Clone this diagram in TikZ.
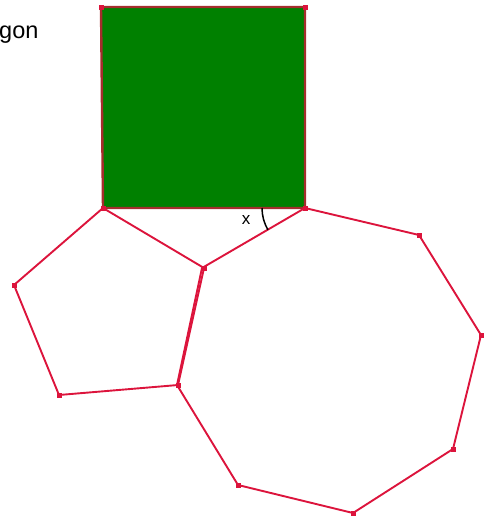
\documentclass[tikz,border=0pt]{standalone}
\usepackage{fontspec}
\setmainfont{Liberation Sans}
\definecolor{edgered}{RGB}{220,20,60}
\definecolor{sqgreen}{RGB}{0,128,0}
\definecolor{sqborder}{RGB}{165,45,45}
\begin{document}
\begin{tikzpicture}[x=1pt,y=-1pt,
  poly/.style={draw=edgered,line width=1.9pt,line join=round},
  vdot/.style={fill=edgered,minimum size=5pt,inner sep=0pt,outer sep=0pt,rectangle}]
\useasboundingbox (0,0) rectangle (486,517);
% square
\coordinate (s1) at (101,7);
\coordinate (s2) at (305,7);
\coordinate (s3) at (305,208);
\coordinate (s4) at (103,208);
\draw[fill=sqgreen,draw=sqborder,line width=2.4pt] (s1) -- (s2) -- (s3) -- (s4) -- cycle;
% pentagon
\coordinate (p1) at (103,208);
\coordinate (p2) at (204,268);
\coordinate (p3) at (178,385);
\coordinate (p4) at (59,395);
\coordinate (p5) at (14,285);
\draw[poly] (p1) -- (p2) -- (p3) -- (p4) -- (p5) -- cycle;
% octagon
\coordinate (o1) at (305,208);
\coordinate (o2) at (419,235);
\coordinate (o3) at (481,335);
\coordinate (o4) at (453,449);
\coordinate (o5) at (353,513);
\coordinate (o6) at (238,485);
\coordinate (o7) at (177,385);
\coordinate (o8) at (202,268);
\draw[poly] (o1) -- (o2) -- (o3) -- (o4) -- (o5) -- (o6) -- (o7) -- (o8) -- cycle;
% vertex dots
\foreach \c in {s1,s2,p1,p2,p3,p4,p5,o1,o2,o3,o4,o5,o6}
  \node[vdot] at (\c) {};
% angle
\draw[line width=1.5pt] (o1) ++(180:43) arc[start angle=180,end angle=149.5,radius=43];
\node[font=\fontsize{17}{19}\selectfont] (xl) at (246,220) {x};
% text
\node[font=\fontsize{23.5}{27}\selectfont,anchor=base west,inner sep=0pt] (t) at (-1,38) {gon};
\end{tikzpicture}
\end{document}
